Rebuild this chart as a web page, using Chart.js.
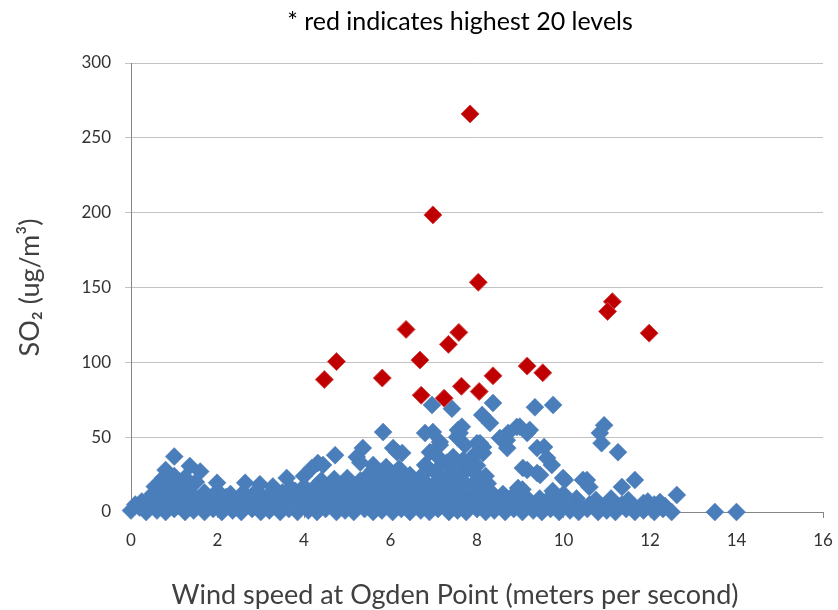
<!DOCTYPE html>
<html>
<head>
<meta charset="utf-8">
<script src="https://cdn.jsdelivr.net/npm/chart.js@4.4.1/dist/chart.umd.min.js"></script>
<style>
  html, body { margin: 0; padding: 0; background: #fff; }
  #wrap { width: 838px; height: 610px; }
</style>
</head>
<body>
<div id="wrap"><canvas id="so2-chart" width="838" height="610"></canvas></div>
<script>
// [wind speed m/s, SO2 ug/m3] readings

// the 20 highest levels (red)
const top20 = [
  [7.84, 266], [6.98, 198.5], [8.03, 153.5], [11.13, 140.5], [11.02, 134],
  [11.98, 119.5], [6.36, 122], [7.58, 120], [7.34, 112], [4.75, 100.5],
  [4.47, 88.5], [5.81, 89.5], [6.68, 101.5], [9.16, 97.5], [9.52, 93],
  [8.37, 91], [7.64, 84], [8.05, 80.5], [6.71, 78], [7.24, 76]
];

// everything else (blue): the packed band along the bottom, row by row
const nearZero = [
  [0.0, 1], [0.2, 3], [0.35, 0], [0.6, 1], [0.8, 0], [1.0, 2], [1.25, 0], [1.45, 1], [1.7, 0], [1.9, 2],
  [2.1, 0], [2.35, 1], [2.55, 0], [2.8, 2], [3.0, 0], [3.2, 1], [3.45, 0], [3.65, 2], [3.85, 0], [4.1, 1],
  [4.3, 0], [4.5, 2], [4.75, 0], [4.95, 1], [5.15, 0], [5.4, 2], [5.6, 0], [5.8, 1], [6.05, 0], [6.25, 2],
  [6.45, 0], [6.7, 1], [6.9, 0], [7.1, 2], [7.35, 0], [7.55, 1], [7.75, 0], [8.0, 2], [8.2, 0], [8.4, 1],
  [8.65, 0], [8.85, 2], [9.05, 0], [9.3, 1], [9.5, 0], [9.7, 2], [9.9, 0], [10.15, 1], [10.35, 0], [10.55, 2],
  [10.8, 0], [11.0, 1], [11.2, 0], [11.45, 2], [11.65, 0], [11.85, 1], [12.1, 0], [12.3, 2], [12.5, 0],
  [13.5, 0], [14.0, 0]
];

const aroundFive = [
  [0.1, 5], [0.35, 4], [0.6, 6], [0.85, 5], [1.1, 4], [1.35, 6], [1.6, 5], [1.85, 4], [2.1, 6], [2.35, 5],
  [2.6, 4], [2.85, 6], [3.1, 5], [3.35, 4], [3.6, 6], [3.85, 5], [4.1, 4], [4.35, 6], [4.6, 5], [4.85, 4],
  [5.1, 6], [5.35, 5], [5.6, 4], [5.85, 6], [6.1, 5], [6.35, 4], [6.6, 6], [6.85, 5], [7.1, 4], [7.35, 6],
  [7.6, 5], [7.85, 4], [8.1, 6], [8.35, 5], [8.6, 4], [8.85, 6], [9.1, 5], [9.35, 4], [9.6, 6], [9.85, 5],
  [10.1, 4], [10.35, 6], [10.6, 5], [10.85, 4], [11.1, 6], [11.35, 5], [11.6, 4], [11.85, 6], [12.1, 5], [12.35, 4]
];

const aroundTen = [
  [0.25, 7], [0.45, 9], [0.7, 10], [0.95, 8], [1.2, 9], [1.45, 10], [1.7, 8], [1.95, 9], [2.2, 10], [2.45, 8],
  [2.7, 9], [2.95, 10], [3.2, 8], [3.45, 9], [3.7, 10], [3.95, 8], [4.2, 9], [4.45, 10], [4.7, 8], [4.95, 9],
  [5.2, 10], [5.45, 8], [5.7, 9], [5.95, 10], [6.2, 8], [6.45, 9], [6.7, 10], [6.95, 8], [7.2, 9], [7.45, 10],
  [7.7, 8], [7.95, 9], [8.2, 10], [8.45, 8], [8.7, 9], [8.95, 10], [9.2, 8], [9.45, 9], [9.7, 10], [9.95, 8],
  [10.3, 9], [10.75, 8], [11.1, 9], [11.5, 8], [11.95, 7], [12.23, 6.7], [12.62, 11.4],
  [0.5, 12], [0.8, 13], [1.1, 14], [1.4, 12], [1.7, 13], [2.0, 14], [2.3, 12], [2.6, 13], [2.9, 14], [3.2, 12],
  [3.5, 13], [3.8, 14], [4.1, 12], [4.4, 13], [4.7, 14], [5.0, 12], [5.3, 13], [5.6, 14], [5.9, 12], [6.2, 13],
  [6.5, 14], [6.8, 12], [7.1, 13], [7.4, 14], [7.7, 12], [8.0, 13], [8.3, 14], [8.6, 12], [8.9, 13], [9.75, 14],
  [10.0, 12]
];

// the heap between 4 and 9 m/s
const midHeap = [
  [3.7, 16], [4.0, 17], [4.3, 18], [4.6, 16], [4.9, 17], [5.2, 18], [5.5, 16], [5.8, 17], [6.1, 18], [6.4, 16],
  [6.7, 17], [7.0, 18], [7.3, 16], [7.6, 17], [7.9, 18], [8.2, 16], [8.95, 16], [9.05, 15],
  [4.4, 21], [4.7, 22], [5.0, 20], [5.3, 21], [5.6, 22], [5.9, 20], [6.2, 21], [6.5, 22], [6.8, 20], [7.1, 21],
  [7.4, 22], [7.7, 20], [8.0, 21], [8.25, 19],
  [5.5, 25], [5.8, 24], [6.1, 26], [6.45, 24.7], [6.75, 25], [7.05, 26], [7.35, 24], [7.65, 25], [7.95, 26], [8.2, 24],
  [5.6, 28], [5.9, 30], [6.2, 29], [6.85, 30], [7.14, 30], [7.45, 31], [7.75, 29], [8.0, 31],
  [7.1, 36.7], [7.45, 36.7], [7.68, 34.7], [7.9, 37], [8.14, 39.4], [6.91, 40], [7.3, 33]
];

// the loose points above the band
const scattered = [
  [1.0, 37], [0.8, 28], [1.36, 30.7], [1.6, 27], [0.74, 22.7], [1.0, 24], [1.25, 23], [0.55, 17], [0.9, 18],
  [1.2, 18], [1.5, 20], [1.99, 19.5], [2.64, 19.5], [2.98, 18.5], [3.28, 17], [3.6, 22.7], [4.18, 29.4],
  [4.44, 31.4], [4.32, 32.7], [4.0, 24], [4.72, 38], [5.36, 42.7], [5.22, 36.7], [5.3, 33], [6.06, 42.7],
  [6.27, 39.4], [6.15, 40], [5.6, 31.4], [5.0, 22.7], [6.8, 31.4],
  [5.83, 53.4], [6.8, 52.8], [6.98, 53.4], [7.65, 57], [7.56, 54.8], [6.96, 71.5], [7.42, 69], [8.37, 72.8],
  [8.12, 64.8], [8.3, 59.4], [9.34, 70], [9.76, 71.5], [8.92, 56.8], [8.99, 57], [9.22, 54.8], [9.16, 52.8],
  [8.72, 52.8], [8.53, 49.4], [8.69, 48], [9.39, 42.7], [9.62, 36], [9.73, 31.4], [9.55, 43.4], [8.7, 42.7],
  [8.14, 43.4], [8.07, 46], [7.14, 44.8], [7.14, 46.8], [7.6, 52.8], [7.54, 50], [7.72, 44.8], [8.0, 46],
  [9.16, 28], [9.46, 24.7], [9.06, 29.4], [9.39, 26], [9.99, 22.7], [10.45, 21.4], [10.03, 21.4],
  [10.54, 21.4], [10.6, 16.7], [10.94, 58], [10.84, 52.8], [10.88, 46], [11.26, 40], [11.65, 21.4],
  [11.35, 16.7]
];

const xTicks = { min: 0, max: 16, step: 2 };
const yTicks = { min: 0, max: 300, step: 50 };

const titleText = '* red indicates highest 20 levels';
const xTitleText = 'Wind speed at Ogden Point (meters per second)';
const yTitleText = 'SO\u2082 (ug/m\u00b3)';

const toPoints = rows => rows.map(([x, y]) => ({ x, y }));
const bluePoints = [].concat(nearZero, aroundFive, aroundTen, midHeap, scattered);

// Excel-style title and x title sit centred on the old chart frame, not the plot
const textPlugin = {
  id: 'excelText',
  afterDraw(chart) {
    const ctx = chart.ctx;
    ctx.save();
    ctx.textAlign = 'center';
    ctx.textBaseline = 'middle';
    ctx.fillStyle = '#000';
    ctx.font = '25px Lato';
    ctx.fillText(titleText, 460, 22);
    ctx.fillStyle = '#404040';
    ctx.font = '27px Lato';
    ctx.fillText(xTitleText, 455, 595);
    ctx.restore();
  }
};

new Chart(document.getElementById('so2-chart'), {
  type: 'scatter',
  data: {
    datasets: [
      {
        label: 'Highest 20',
        data: toPoints(top20),
        pointStyle: 'rectRot',
        pointRadius: 9,
        pointHoverRadius: 9,
        backgroundColor: '#c00000',
        borderColor: '#d24a4a',
        borderWidth: 1,
        clip: false
      },
      {
        label: 'Other readings',
        data: toPoints(bluePoints),
        pointStyle: 'rectRot',
        pointRadius: 9,
        pointHoverRadius: 9,
        backgroundColor: '#4a7ebb',
        borderColor: '#4f81bd',
        borderWidth: 0.5,
        clip: false
      }
    ]
  },
  options: {
    responsive: false,
    animation: false,
    events: [],
    layout: { padding: { top: 63, right: 15, bottom: 52, left: 6 } },
    plugins: {
      legend: { display: false },
      tooltip: { enabled: false },
      title: { display: false }
    },
    scales: {
      x: {
        type: 'linear',
        min: xTicks.min,
        max: xTicks.max,
        afterFit: scale => {
          scale.height = 46;
          scale.paddingRight = 0;
        },
        ticks: { stepSize: xTicks.step, padding: 12, color: '#333', font: { family: 'Lato', size: 17 } },
        grid: { drawOnChartArea: false, drawTicks: true, tickLength: 6, color: '#868686' },
        border: { color: '#868686' }
      },
      y: {
        type: 'linear',
        min: yTicks.min,
        max: yTicks.max,
        afterFit: scale => { scale.width = 125; },
        ticks: { stepSize: yTicks.step, padding: 14, color: '#333', font: { family: 'Lato', size: 17 } },
        grid: { color: '#c3c3c3', tickLength: 6 },
        border: { color: '#868686' },
        title: {
          display: true,
          text: yTitleText,
          color: '#404040',
          font: { family: 'Lato', size: 27 },
          padding: { top: 8, bottom: 0 }
        }
      }
    }
  },
  plugins: [textPlugin]
});
</script>
</body>
</html>
